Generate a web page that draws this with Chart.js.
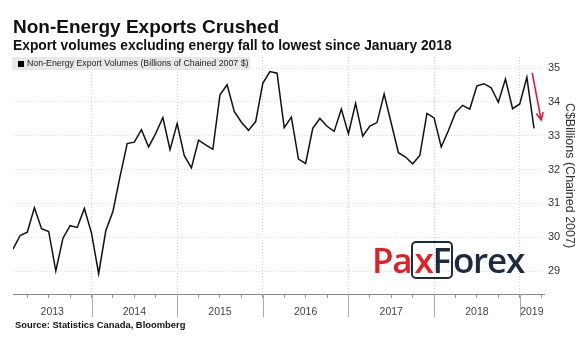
<!DOCTYPE html>
<html>
<head>
<meta charset="utf-8">
<script src="https://cdn.jsdelivr.net/npm/chart.js@4.4.1/dist/chart.umd.min.js"></script>
<style>
  body { margin: 0; background: #fff; font-family: "Liberation Sans", Arial, sans-serif; }
  #wrap { position: relative; width: 581px; height: 342px; overflow: hidden; background: #fff; }
  #chart { position: absolute; left: 0; top: 0; }
  .title { position: absolute; left: 13px; top: 17px; font-size: 19px; line-height: 19px; font-weight: bold; color: #111; white-space: nowrap; }
  .subtitle { position: absolute; left: 13px; top: 39px; font-size: 13.8px; line-height: 13.8px; font-weight: bold; color: #111; white-space: nowrap; }
  .legend { position: absolute; left: 12px; top: 57px; width: 238px; height: 13px; background: #e8e8e8; font-size: 8.8px; line-height: 13px; color: #222; white-space: nowrap; }
  .legend i { display: inline-block; width: 6px; height: 6px; background: #000; margin: 0 3px 0 6px; vertical-align: -0.5px; }
  .source { position: absolute; left: 15px; top: 320px; font-size: 9.4px; line-height: 10px; font-weight: bold; color: #111; white-space: nowrap; }
  .logo { position: absolute; left: 372px; top: 241px; height: 38px; font-family: "Open Sans", sans-serif; font-weight: 600; font-size: 35px; line-height: 38px; letter-spacing: -1.2px; white-space: nowrap; }
  .logo .red { color: #e31e24; }
  .logo .navy { color: #1d2b3e; }
  .logo .box { display: inline-block; border: 2px solid #1d2b3e; border-radius: 5px; height: 34px; line-height: 34px; padding: 0 1px; vertical-align: top; }
</style>
</head>
<body>
<div id="wrap">
  <canvas id="chart" width="581" height="342"></canvas>
  <div class="title">Non-Energy Exports Crushed</div>
  <div class="subtitle">Export volumes excluding energy fall to lowest since January 2018</div>
  <div class="legend"><i></i>Non-Energy Export Volumes (Billions of Chained 2007 $)</div>
  <div class="logo"><span class="red">Pa</span><span class="box"><span class="red">x</span><span class="navy">F</span></span><span class="navy">orex</span></div>
  <div class="source">Source: Statistics Canada, Bloomberg</div>
</div>
<script>
// monthly values, Jan 2013 .. Feb 2019
const yearLabels = ['2013', '2014', '2015', '2016', '2017', '2018', '2019'];
const volumes = [
  29.65, 30.05, 30.15, 30.87, 30.25, 30.17, 29.00, 29.97, 30.34, 30.29, 30.85, 30.12,
  28.92, 30.19, 30.76, 31.80, 32.77, 32.81, 33.18, 32.67, 33.07, 33.54, 32.59, 33.36,
  32.41, 32.05, 32.87, 32.73, 32.60, 34.21, 34.51, 33.72, 33.40, 33.16, 33.42, 34.55,
  34.90, 34.85, 33.24, 33.55, 32.31, 32.18, 33.22, 33.51, 33.28, 33.13, 33.79, 33.06,
  33.96, 32.99, 33.29, 33.39, 34.23, 33.37, 32.50, 32.37, 32.17, 32.42, 33.66, 33.53,
  32.67, 33.15, 33.68, 33.90, 33.79, 34.48, 34.54, 34.42, 33.99, 34.68, 33.80, 33.94,
  34.73, 33.22
];
const yTicks = [29, 30, 31, 32, 33, 34, 35];
// red arrow annotation, [months since Jan 2013, value]
const arrowFrom = [73.75, 34.86];
const arrowTo = [75.0, 33.47];

const xMin = 1, xMax = 75.4;
// points sit at month end
const points = volumes.map((v, i) => ({ x: i + 1, y: v }));

const xTicks = [];
for (let m = 3; m <= 75; m += 3) xTicks.push({ value: m, kind: m % 12 === 0 ? 'year' : 'q' });
yearLabels.forEach((yr, i) => {
  const a = Math.max(i * 12, xMin), b = Math.min(i * 12 + 12, xMax);
  xTicks.push({ value: (a + b) / 2, kind: 'label', text: yr });
});
xTicks.sort((a, b) => a.value - b.value);

const extras = {
  id: 'extras',
  afterDraw(chart) {
    const { ctx, chartArea, scales } = chart;
    ctx.save();
    // long year separators under the axis
    ctx.strokeStyle = '#aaaaaa';
    ctx.lineWidth = 1;
    xTicks.filter(t => t.kind === 'year').forEach(t => {
      const px = Math.round(scales.x.getPixelForValue(t.value)) + 0.5;
      ctx.beginPath();
      ctx.moveTo(px, chartArea.bottom);
      ctx.lineTo(px, chartArea.bottom + 23);
      ctx.stroke();
    });
    // arrow
    const x1 = scales.x.getPixelForValue(arrowFrom[0]), y1 = scales.y.getPixelForValue(arrowFrom[1]);
    const x2 = scales.x.getPixelForValue(arrowTo[0]), y2 = scales.y.getPixelForValue(arrowTo[1]);
    const ang = Math.atan2(y2 - y1, x2 - x1);
    ctx.strokeStyle = '#e6173d';
    ctx.lineWidth = 1.6;
    ctx.beginPath();
    ctx.moveTo(x1, y1);
    ctx.lineTo(x2, y2);
    ctx.moveTo(x2 - 8 * Math.cos(ang - 0.45), y2 - 8 * Math.sin(ang - 0.45));
    ctx.lineTo(x2, y2);
    ctx.lineTo(x2 - 8 * Math.cos(ang + 0.45), y2 - 8 * Math.sin(ang + 0.45));
    ctx.stroke();
    ctx.restore();
  }
};

new Chart(document.getElementById('chart'), {
  type: 'line',
  data: {
    datasets: [{
      label: 'Non-Energy Export Volumes (Billions of Chained 2007 $)',
      data: points,
      borderColor: '#111111',
      borderWidth: 1.5,
      pointRadius: 0,
      tension: 0,
      fill: false
    }]
  },
  options: {
    responsive: false,
    animation: false,
    devicePixelRatio: 1,
    layout: { padding: { top: 57, left: 13, right: 0, bottom: 18 } },
    plugins: { legend: { display: false }, tooltip: { enabled: false } },
    scales: {
      x: {
        type: 'linear',
        min: xMin,
        max: xMax,
        afterBuildTicks: axis => { axis.ticks = xTicks.map(t => ({ ...t })); },
        afterFit: axis => { axis.height = 30; },
        ticks: {
          autoSkip: false,
          maxRotation: 0,
          padding: 8,
          color: '#444',
          font: { family: 'Liberation Sans', size: 10.5 },
          callback: (val, idx, ticks) => ticks[idx].kind === 'label' ? ticks[idx].text : ''
        },
        grid: {
          color: ctx => ctx.tick && ctx.tick.kind === 'year' ? '#d2d2d2' : 'rgba(0,0,0,0)',
          tickColor: ctx => ctx.tick && ctx.tick.kind !== 'label' ? '#999999' : 'rgba(0,0,0,0)',
          tickLength: 4
        },
        border: { display: true, color: '#888888', width: 1, dash: [1, 2] }
      },
      y: {
        position: 'right',
        min: 28.32,
        max: 35.33,
        afterBuildTicks: axis => { axis.ticks = yTicks.map(v => ({ value: v })); },
        afterFit: axis => { axis.width = 37; },
        ticks: { padding: 4, color: '#333', font: { family: 'Liberation Sans', size: 11 } },
        grid: { color: '#d9d9d9', drawTicks: false },
        border: { display: false, dash: [1, 2] },
        title: {
          display: true,
          text: 'C$Billions (Chained 2007)',
          color: '#333',
          font: { family: 'Liberation Sans', size: 12.5 },
          padding: { top: 4, bottom: 0 }
        }
      }
    }
  },
  plugins: [extras]
});
</script>
</body>
</html>
